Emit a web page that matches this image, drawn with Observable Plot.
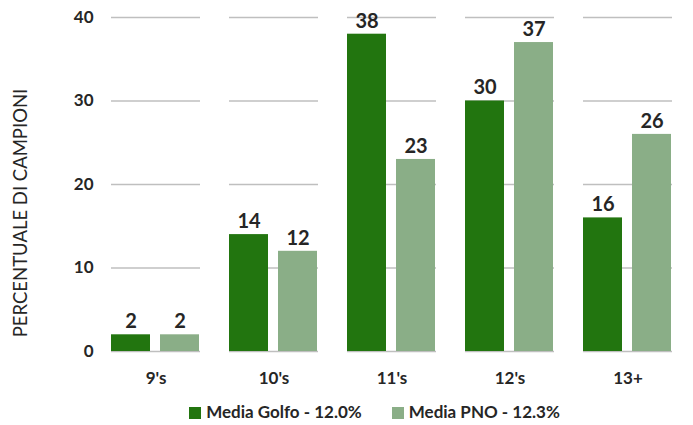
<!DOCTYPE html>
<html><head><meta charset="utf-8">
<script src="https://cdn.jsdelivr.net/npm/d3@7"></script>
<script src="https://cdn.jsdelivr.net/npm/@observablehq/plot@0.6"></script>
<style>
body{margin:0;background:#fff;font-family:Lato,"Open Sans",sans-serif;}
#legend{display:flex;justify-content:center;gap:30px;margin-left:56px;height:32px;align-items:center;font-weight:bold;font-size:17px;color:#262626;}
#legend span.sw{display:inline-block;width:12px;height:12px;margin-right:5px;vertical-align:-1px;}
</style></head>
<body>
<div id="chart"></div>
<div id="legend"></div>
<script>
const categories = ["9's","10's","11's","12's","13+"];
const series = ["Media Golfo - 12.0%","Media PNO - 12.3%"];
const golfo = [2,14,38,30,16];
const pno = [2,12,23,37,26];
const colors = ["#22750f","#8aae87"];
const yTicks = [0,10,20,30,40];
const yLabel = "PERCENTUALE DI CAMPIONI";

const data = [];
categories.forEach((c,i)=>{
  data.push({cat:c, s:series[0], v:golfo[i]});
  data.push({cat:c, s:series[1], v:pno[i]});
});

const chart = Plot.plot({
  width:693, height:395,
  marginLeft:96, marginRight:7, marginTop:17, marginBottom:44,
  style:{fontFamily:"Lato, 'Open Sans', sans-serif", fontSize:"16px", color:"#262626", background:"#fff"},
  fx:{domain:categories, paddingInner:0.246, paddingOuter:0.123, label:null, axis:null},
  x:{domain:series, paddingInner:0.2, paddingOuter:0, axis:null},
  y:{domain:[0,40], ticks:yTicks, label:null, axis:null},
  color:{domain:series, range:colors},
  marks:[
    Plot.ruleY(yTicks,{stroke:"#bfbfbf", strokeWidth:1.3}),
    Plot.axisY({ticks:yTicks, tickSize:0, tickPadding:18, fontWeight:"bold", fontSize:17, label:null}),
    Plot.axisFx({tickSize:0, tickPadding:20, fontWeight:"bold", fontSize:17, label:null, anchor:"bottom"}),
    Plot.barY(data,{fx:"cat", x:"s", y:"v", fill:"s"}),
    Plot.text(data,{fx:"cat", x:"s", y:"v", text:d=>String(d.v), dy:-13, fontWeight:"bold", fontSize:20, fill:"#262626"})
  ]
});
document.getElementById("chart").appendChild(chart);

// y-axis title (single, outside facets)
d3.select(chart).append("text")
  .attr("transform","translate(22,213) rotate(-90)")
  .attr("text-anchor","middle").attr("dominant-baseline","middle")
  .attr("font-size",18.5).attr("fill","#262626")
  .attr("font-family","Lato, 'Open Sans', sans-serif")
  .text(yLabel);

const leg = document.getElementById("legend");
series.forEach((s,i)=>{
  const it = document.createElement("div");
  it.innerHTML = `<span class="sw" style="background:${colors[i]}"></span>${s}`;
  leg.appendChild(it);
});
</script>
</body></html>
